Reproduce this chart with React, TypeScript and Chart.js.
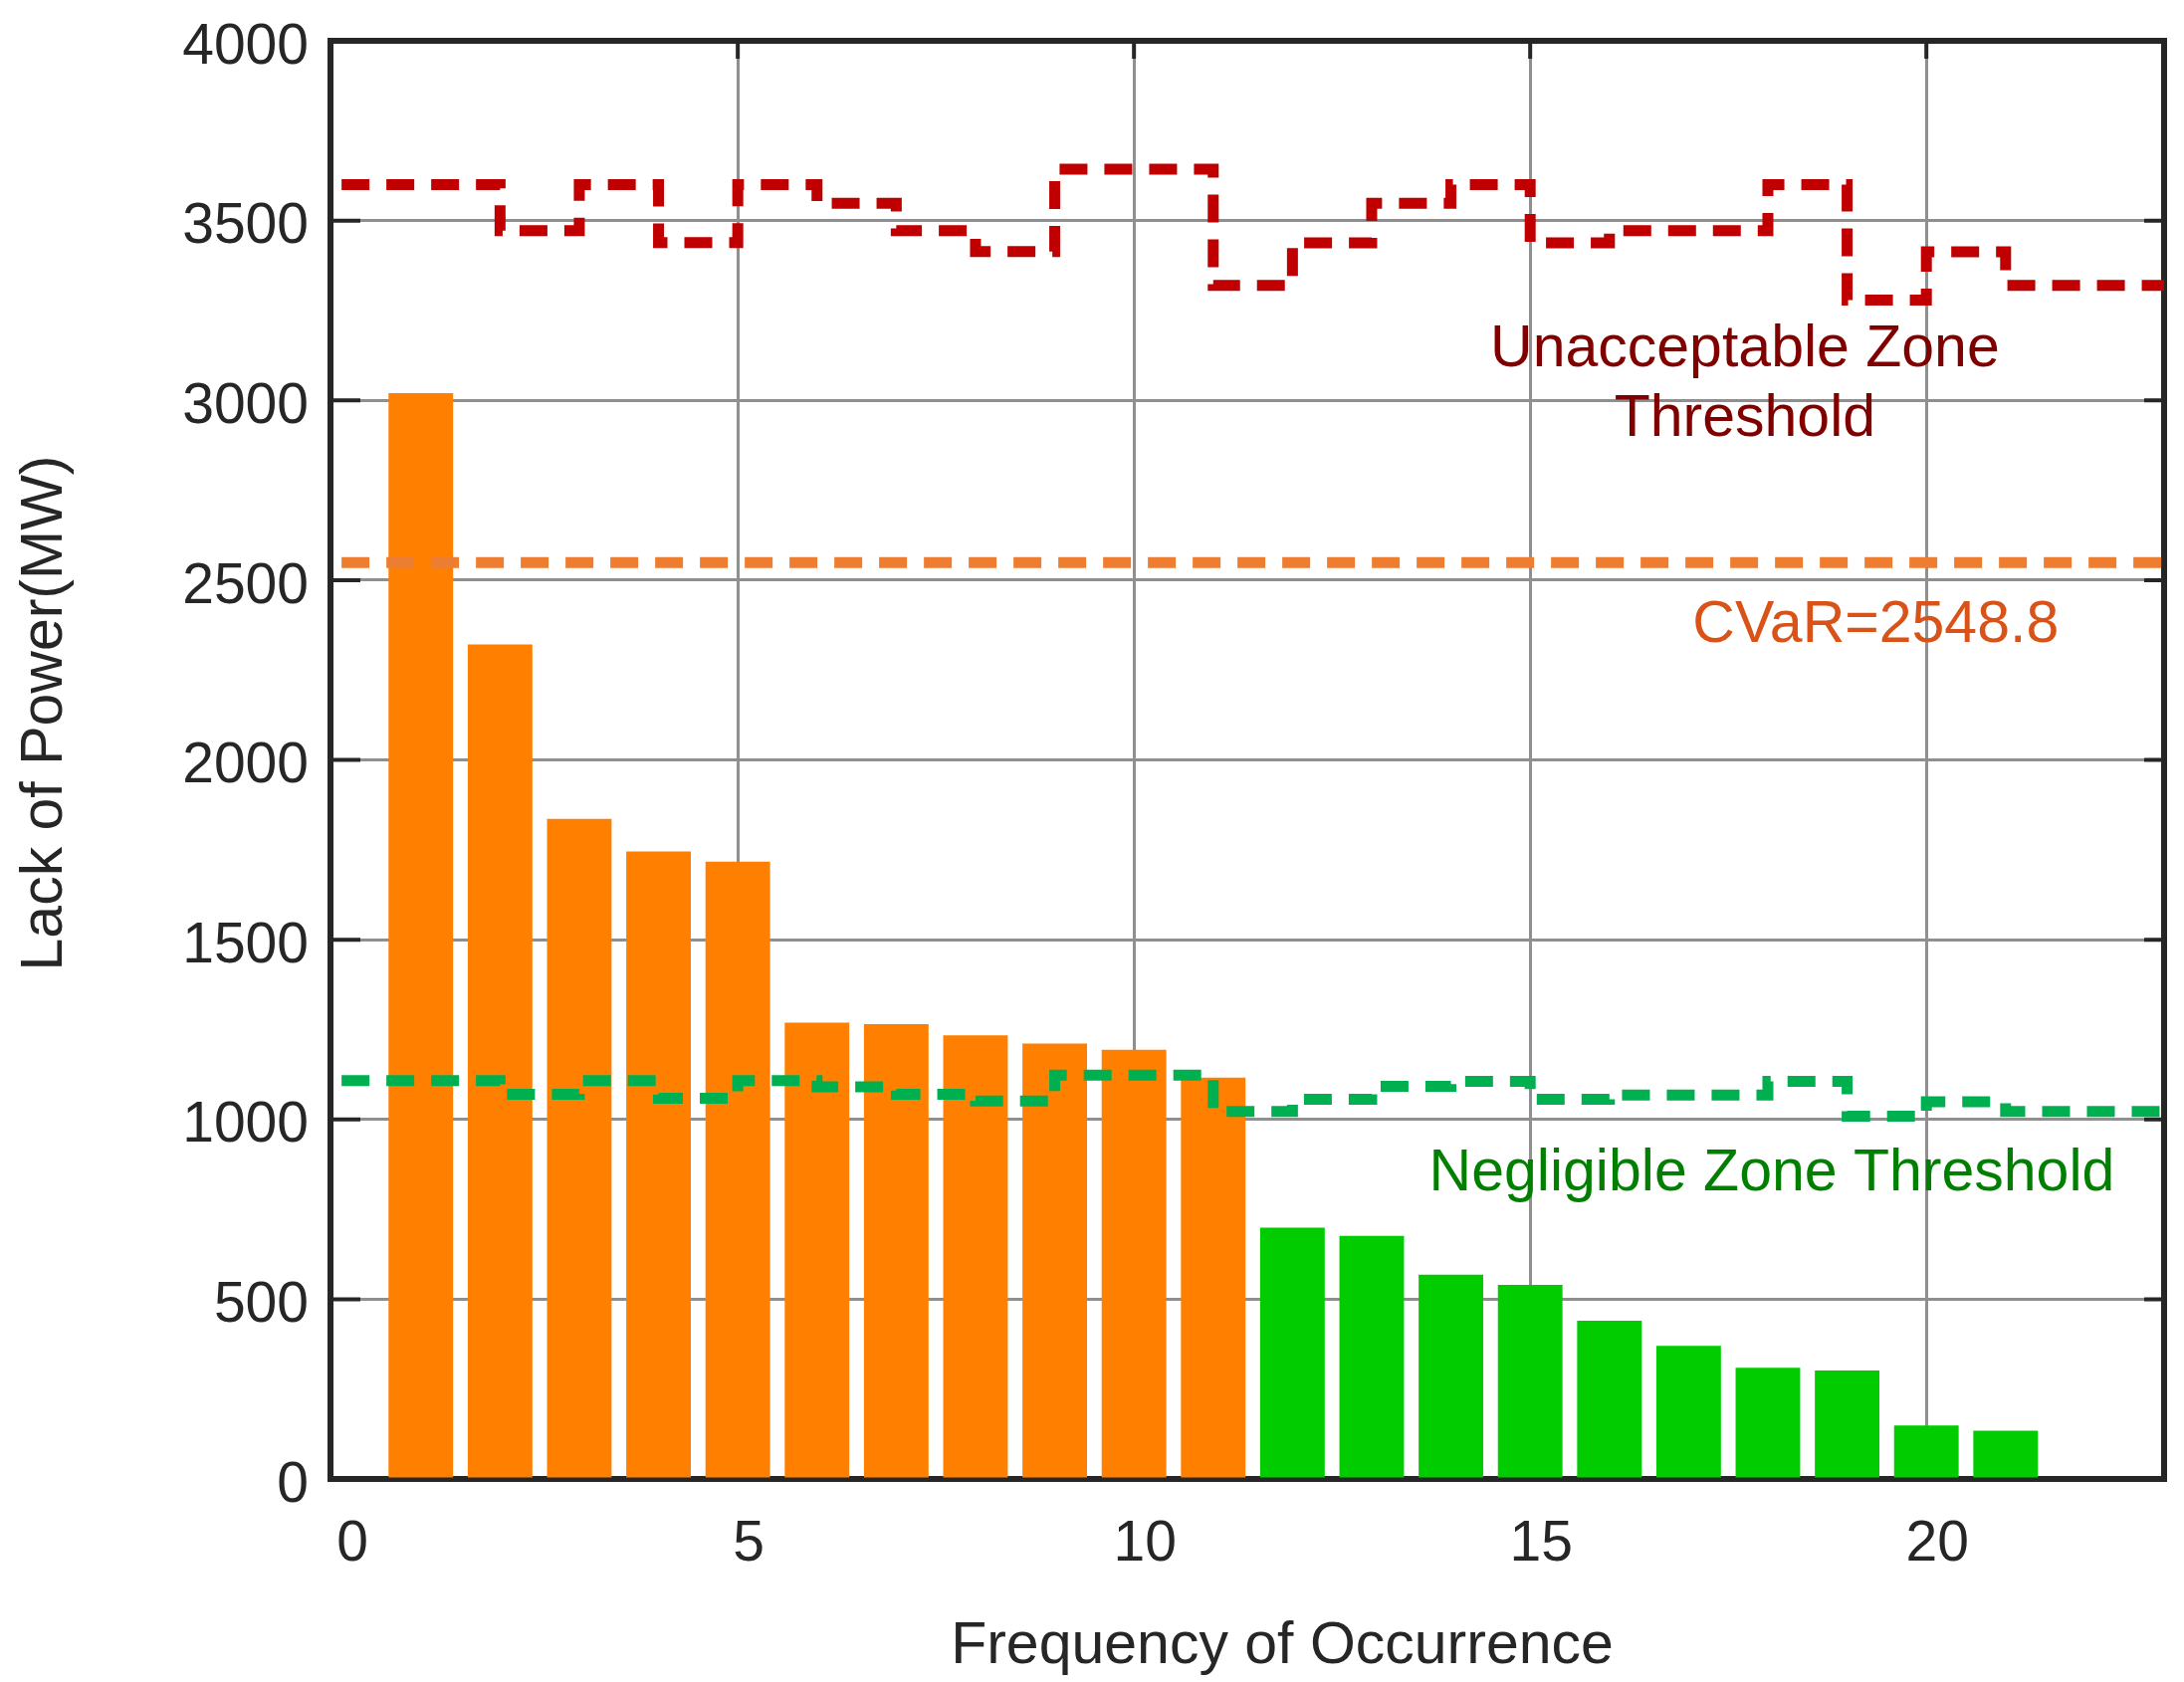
import React, { useEffect, useRef } from 'react';
import { Chart, registerables } from 'chart.js';

Chart.register(...registerables);

// scenarios above the negligible threshold (orange) and below it (green)
const riskX = [1, 2, 3, 4, 5, 6, 7, 8, 9, 10, 11];
const riskBars = [3020, 2321, 1836, 1745, 1717, 1269, 1265, 1234, 1211, 1194, 1116];
const negligibleX = [12, 13, 14, 15, 16, 17, 18, 19, 20, 21];
const negligibleBars = [699, 676, 568, 540, 440, 370, 309, 302, 149, 134];

// stepped thresholds, value i holds on [stepX[i], stepX[i+1]]
const stepX = [0, 1, 2, 3, 4, 5, 6, 7, 8, 9, 10, 11, 12, 13, 14, 15, 16, 17, 18, 19, 20, 21, 22, 23];
const unacceptableThreshold = [3600, 3600, 3472, 3600, 3439, 3600, 3548, 3472, 3414, 3643, 3643, 3320, 3438, 3548, 3600, 3438, 3472, 3472, 3600, 3279, 3413, 3320, 3320, 3320];
const negligibleThreshold = [1108, 1108, 1070, 1108, 1059, 1108, 1091, 1070, 1051, 1123, 1123, 1022, 1056, 1092, 1106, 1056, 1068, 1068, 1106, 1009, 1049, 1022, 1022, 1022];
const cvar = 2548.8;

const xTicks = [0, 5, 10, 15, 20];
const yTicks = [0, 500, 1000, 1500, 2000, 2500, 3000, 3500, 4000];
const xMin = -0.14;
const xMax = 23;

const FONT = '"Liberation Sans", Arial, Helvetica, sans-serif';
const AXIS = '#262626';
const GRID = '#8f8f8f';

// text notes placed in data space
const notes = [
  { text: 'Unacceptable Zone', x: 17.71, y: 3141, color: '#800000' },
  { text: 'Threshold', x: 17.71, y: 2947, color: '#800000' },
  { text: 'CVaR=2548.8', x: 19.36, y: 2374, color: '#D95319' },
  { text: 'Negligible Zone Threshold', x: 18.05, y: 848, color: '#007F00' },
];

const framePlugin = {
  id: 'frame',
  beforeDatasetsDraw(chart: any) {
    const { ctx, chartArea: a, scales } = chart;
    ctx.save();
    ctx.strokeStyle = AXIS;
    ctx.lineWidth = 4;
    ctx.beginPath();
    for (const t of scales.y.ticks) {
      const py = scales.y.getPixelForValue(t.value);
      ctx.moveTo(a.left, py);
      ctx.lineTo(a.left + 30, py);
      ctx.moveTo(a.right, py);
      ctx.lineTo(a.right - 20, py);
    }
    for (const t of scales.x.ticks) {
      if (t.value === 0) continue;
      const px = scales.x.getPixelForValue(t.value);
      ctx.moveTo(px, a.top);
      ctx.lineTo(px, a.top + 18);
      ctx.moveTo(px, a.bottom);
      ctx.lineTo(px, a.bottom - 18);
    }
    ctx.stroke();
    ctx.lineWidth = 6;
    ctx.strokeRect(a.left, a.top, a.right - a.left, a.bottom - a.top);
    ctx.restore();
  },
  afterDatasetsDraw(chart: any) {
    const { ctx, chartArea: a, scales } = chart;
    ctx.save();
    ctx.font = '59px ' + FONT;
    ctx.textAlign = 'center';
    ctx.textBaseline = 'middle';
    for (const n of notes) {
      ctx.fillStyle = n.color;
      ctx.fillText(n.text, scales.x.getPixelForValue(n.x), scales.y.getPixelForValue(n.y));
    }
    // axis titles
    ctx.fillStyle = AXIS;
    ctx.fillText('Frequency of Occurrence', (a.left + a.right) / 2 + 35, a.bottom + 169);
    ctx.translate(46, (a.top + a.bottom) / 2 - 47);
    ctx.rotate(-Math.PI / 2);
    ctx.fillText('Lack of Power(MW)', 0, 0);
    ctx.restore();
  },
};

const App: React.FC = () => {
  const chartRef = useRef<HTMLCanvasElement>(null);
  const chartInstance = useRef<Chart | null>(null);

  useEffect(() => {
    document.body.style.margin = '0';
    document.body.style.overflow = 'hidden';
    if (!chartRef.current) return;
    const ctx = chartRef.current.getContext('2d');

    if (chartInstance.current) {
      chartInstance.current.destroy();
    }

    const lineStyle = {
      type: 'line' as const,
      borderWidth: 11,
      borderDash: [28, 17],
      borderCapStyle: 'butt' as const,
      pointRadius: 0,
      fill: false,
      order: 0,
    };

    chartInstance.current = new Chart(ctx as CanvasRenderingContext2D, {
      type: 'bar',
      data: {
        datasets: [
          {
            ...lineStyle,
            label: 'Unacceptable Zone Threshold',
            data: stepX.map((x, i) => ({ x, y: unacceptableThreshold[i] })),
            borderColor: '#C00000',
            stepped: true,
          },
          {
            ...lineStyle,
            label: 'CVaR',
            data: [
              { x: stepX[0], y: cvar },
              { x: stepX[stepX.length - 1], y: cvar },
            ],
            borderColor: '#ED7D31',
          },
          {
            ...lineStyle,
            label: 'Negligible Zone Threshold',
            data: stepX.map((x, i) => ({ x, y: negligibleThreshold[i] })),
            borderColor: '#00B050',
            stepped: true,
          },
          {
            type: 'bar',
            label: 'Risk',
            data: riskX.map((x, i) => ({ x, y: riskBars[i] })),
            backgroundColor: '#FF8000',
            borderWidth: 0,
            grouped: false,
            barPercentage: 0.815,
            categoryPercentage: 1,
            order: 1,
          },
          {
            type: 'bar',
            label: 'Negligible',
            data: negligibleX.map((x, i) => ({ x, y: negligibleBars[i] })),
            backgroundColor: '#00CC00',
            borderWidth: 0,
            grouped: false,
            barPercentage: 0.815,
            categoryPercentage: 1,
            order: 1,
          },
        ] as any,
      },
      options: {
        animation: false,
        responsive: false,
        devicePixelRatio: 1,
        layout: { padding: { top: 41, right: 20, left: 0, bottom: 0 } },
        plugins: {
          legend: { display: false },
          tooltip: { enabled: false },
        },
        scales: {
          x: {
            type: 'linear',
            min: xMin,
            max: xMax,
            offset: false,
            afterBuildTicks: (s: any) => {
              s.ticks = xTicks.map((v) => ({ value: v }));
            },
            afterFit: (s: any) => {
              s.height = 204;
              s.paddingLeft = 0;
              s.paddingRight = 0;
            },
            grid: {
              offset: false,
              color: (c: any) => (c.tick && c.tick.value === 0 ? 'rgba(0,0,0,0)' : GRID),
              lineWidth: 3,
              drawTicks: false,
            },
            border: { display: false },
            ticks: {
              padding: 32,
              labelOffset: 11,
              color: AXIS,
              font: { family: FONT, size: 57 },
              callback: (v: any) => String(v),
            },
          },
          y: {
            type: 'linear',
            min: 0,
            max: 4000,
            afterBuildTicks: (s: any) => {
              s.ticks = yTicks.map((v) => ({ value: v }));
            },
            afterFit: (s: any) => {
              s.width = 332;
              s.paddingTop = 0;
              s.paddingBottom = 0;
            },
            grid: {
              color: GRID,
              lineWidth: 3,
              drawTicks: false,
            },
            border: { display: false },
            ticks: {
              padding: 22,
              labelOffset: 7,
              color: AXIS,
              font: { family: FONT, size: 57 },
              callback: (v: any) => String(v),
            },
          },
        },
      },
      plugins: [framePlugin],
    });

    return () => {
      if (chartInstance.current) {
        chartInstance.current.destroy();
        chartInstance.current = null;
      }
    };
  }, []);

  return <canvas ref={chartRef} width={2194} height={1690} style={{ display: 'block' }} />;
};

export default App;
